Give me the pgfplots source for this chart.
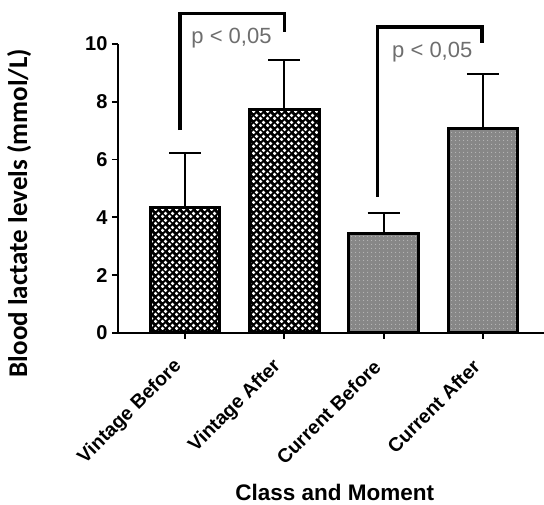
\documentclass[border=0pt]{standalone}
\usepackage{pgfplots}
\pgfplotsset{compat=1.18}
\usepackage{fontspec}
\setmainfont{Liberation Sans}
\newfontfamily\carlito{Carlito}
\usetikzlibrary{patterns}

\pgfdeclarepatternformonly{wdots}{\pgfqpoint{0pt}{0pt}}{\pgfqpoint{7pt}{7pt}}{\pgfqpoint{7pt}{7pt}}{%
 \pgfpathcircle{\pgfqpoint{1.75pt}{1.75pt}}{2.0pt}%
 \pgfpathcircle{\pgfqpoint{5.25pt}{5.25pt}}{2.0pt}%
 \pgfusepath{fill}}
\pgfdeclarepatternformonly{gdots}{\pgfqpoint{0pt}{0pt}}{\pgfqpoint{3.5pt}{3.5pt}}{\pgfqpoint{3.5pt}{3.5pt}}{%
 \pgfpathcircle{\pgfqpoint{1.75pt}{1.75pt}}{0.6pt}\pgfusepath{fill}}

\definecolor{pgray}{RGB}{110,110,110}
\definecolor{cgray}{RGB}{135,135,135}
\definecolor{cdot}{RGB}{185,185,185}

\begin{document}
\begin{tikzpicture}
\begin{axis}[
  at={(0,0)}, anchor=south west,
  width=426pt, height=289pt, scale only axis,
  xmin=-0.675, xmax=3.615, ymin=0, ymax=10,
  axis x line=bottom, axis y line=left,
  axis line style={line width=2pt, -},
  clip=false,
  xtick={0,1,2,3},
  xticklabels={Vintage Before, Vintage After, Current Before, Current After},
  ytick={0,2,4,6,8,10},
  tick style={line width=1.8pt, black},
  major tick length=6pt,
  tick align=outside,
  /pgf/number format/assume math mode=true,
  yticklabel style={font=\fontsize{20}{20}\selectfont\bfseries, xshift=-1pt},
  xticklabel style={yshift=-22pt, xshift=-4pt, rotate=45, anchor=east, font=\fontsize{19.5}{19.5}\selectfont\bfseries},
  ylabel={Blood lactate levels (mmol/L)},
  ylabel style={at={(axis description cs:-0.232,0.415)}, anchor=center, font=\carlito\bfseries\fontsize{27}{27}\selectfont},
  xlabel={Class and Moment},
  xlabel style={at={(axis description cs:0.509,-0.552)}, anchor=center, font=\fontsize{22.5}{22.5}\selectfont\bfseries},
]
\addplot[ybar, bar width=0.7, bar shift=0pt, draw=black, line width=3pt, fill=black,
  postaction={pattern=wdots, pattern color=white},
  error bars/.cd, y dir=plus, y explicit,
  error bar style={line width=2pt, black},
  error mark options={rotate=90, mark size=16pt, line width=2pt, black}]
  coordinates {(0,4.33) +- (0,1.90) (1,7.72) +- (0,1.73)};
\addplot[ybar, bar width=0.7, bar shift=0pt, draw=black, line width=3pt, fill=cgray,
  postaction={pattern=gdots, pattern color=cdot},
  error bars/.cd, y dir=plus, y explicit,
  error bar style={line width=2pt, black},
  error mark options={rotate=90, mark size=16pt, line width=2pt, black}]
  coordinates {(2,3.43) +- (0,0.72) (3,7.09) +- (0,1.87)};
\draw[line width=3.2pt, black, line join=miter] (axis cs:-0.05,7.02) -- (axis cs:-0.05,11.06) -- (axis cs:1.0,11.06) -- (axis cs:1.0,10.42);
\draw[line width=3.2pt, black, line join=miter] (axis cs:1.94,4.71) -- (axis cs:1.94,10.59) -- (axis cs:2.99,10.59) -- (axis cs:2.99,10.03);
\node[anchor=base, text=pgray, font=\fontsize{22}{22}\selectfont] at (axis cs:0.468,10.03) {p < 0,05};
\node[anchor=base, text=pgray, font=\fontsize{22}{22}\selectfont] at (axis cs:2.49,9.55) {p < 0,05};
\end{axis}
\pgfresetboundingbox
\path[use as bounding box] (-118pt,-172pt) rectangle (426pt,333pt);
\end{tikzpicture}
\end{document}
